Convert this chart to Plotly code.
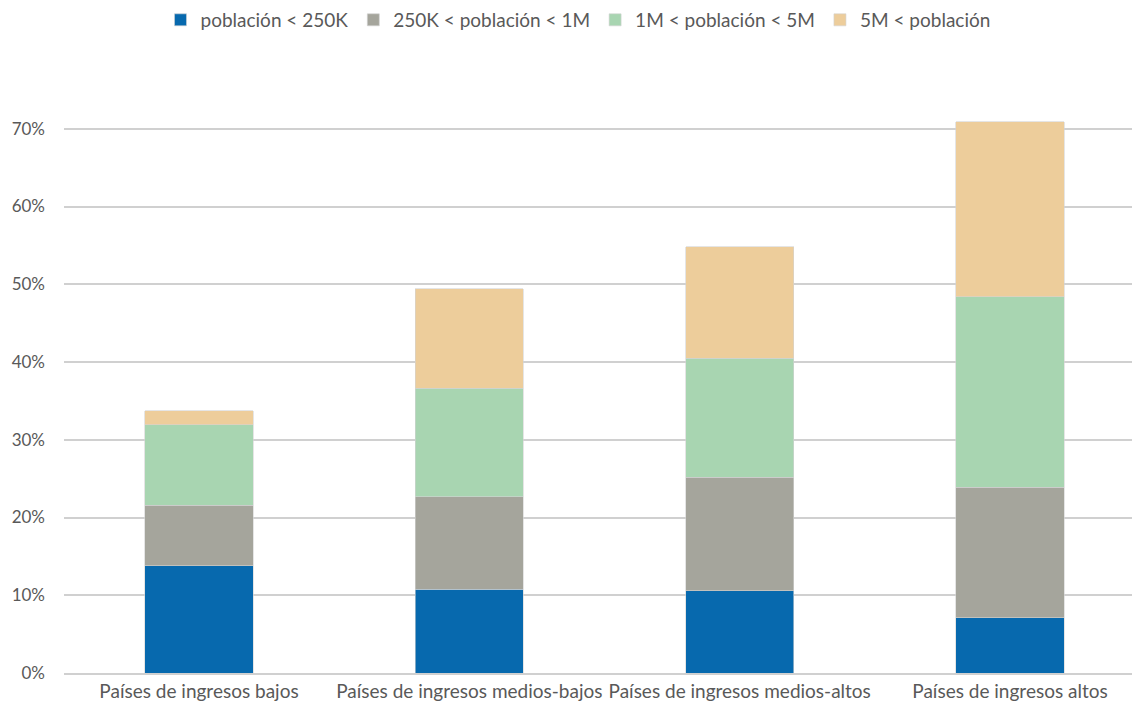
import plotly.graph_objects as go

categories = ["Países de ingresos bajos", "Países de ingresos medios-bajos",
              "Países de ingresos medios-altos", "Países de ingresos altos"]
series_names = ["población < 250K", "250K < población < 1M",
                "1M < población < 5M", "5M < población"]
s1 = [0.138, 0.108, 0.1055, 0.071]
s2 = [0.078, 0.1185, 0.1465, 0.168]
s3 = [0.103, 0.140, 0.153, 0.245]
s4 = [0.018, 0.128, 0.143, 0.225]
colors = ["#0769ae", "#a5a59c", "#a8d5b1", "#edcd9b"]
tick_vals = [0, 0.1, 0.2, 0.3, 0.4, 0.5, 0.6, 0.7]
tick_text = ["0%", "10%", "20%", "30%", "40%", "50%", "60%", "70%"]

fig = go.Figure()
for name, vals, c in zip(series_names, [s1, s2, s3, s4], colors):
    fig.add_trace(go.Bar(x=categories, y=vals, name=name, marker_color=c,
                         marker_line_color="#d4d4d4", marker_line_width=0.6))

fig.update_layout(
    width=1140, height=704,
    barmode="stack", bargap=0.6,
    plot_bgcolor="white", paper_bgcolor="white",
    margin=dict(l=56, r=0, t=43, b=39, autoexpand=False),
    font=dict(family="Lato", size=18, color="#595959"),
    legend=dict(orientation="h", x=0.5, xref="container", xanchor="center",
                y=0.983, yref="container", yanchor="middle",
                font=dict(size=19, color="#595959"),
                itemwidth=30, traceorder="normal"),
    xaxis=dict(range=[-0.4994, 3.5105], showgrid=False, showline=True,
               linecolor="#d0d0d0", linewidth=2, automargin=False,
               ticks="", tickfont=dict(size=19, color="#595959")),
    yaxis=dict(range=[0, 0.8], tickvals=tick_vals, ticktext=tick_text,
               showgrid=True, gridcolor="#d0d0d0", gridwidth=2, automargin=False,
               zeroline=False, showline=False, ticks="", ticklabelstandoff=18,
               tickfont=dict(size=17, color="#595959")),
)
fig.write_html("out.html")
